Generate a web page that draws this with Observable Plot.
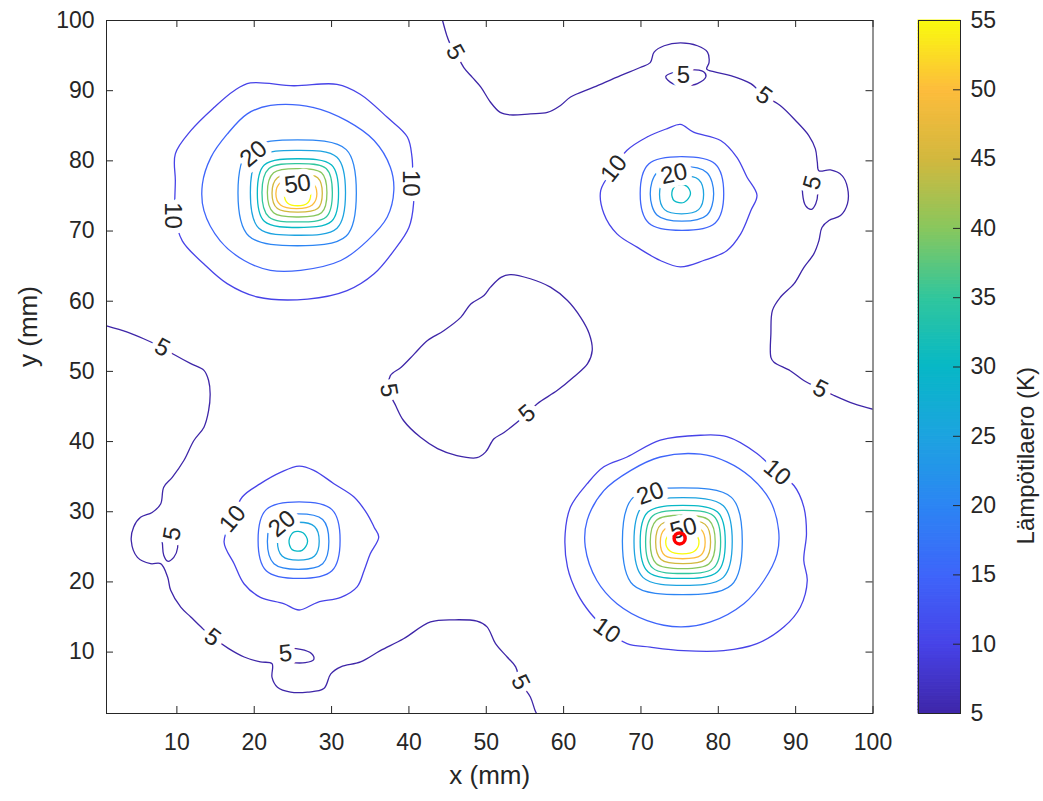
<!DOCTYPE html>
<html><head><meta charset="utf-8">
<script src="https://cdn.jsdelivr.net/npm/d3@7"></script>
<script src="https://cdn.jsdelivr.net/npm/@observablehq/plot@0.6"></script>
<style>
body{margin:0;background:#fff;}
#wrap{position:relative;width:1043px;height:801px;font-family:"Liberation Sans",Arial,Helvetica,sans-serif;}
#wrap svg{position:absolute;top:0;}
</style></head><body><div id="wrap"></div>
<script>
// ---- scale / tick data ----
const levels = [5,10,15,20,25,30,35,40,45,50,55];
const parulaStops = ["#3e26a8","#4743e8","#3e65fa","#2c85f3","#1da3e0","#07b8c6","#30c69d","#88c75d","#d2b83e","#fdbc3c","#f9fb0e"];
const xTicks = [10,20,30,40,50,60,70,80,90,100];
const yTicks = [10,20,30,40,50,60,70,80,90,100];
const cbTicks = [5,10,15,20,25,30,35,40,45,50,55];

// ---- level 5 contours ----
const c5Upper = [[44.35,100],[44.9,97.85],[45.25,96.85],[46.0,95.5],[47.1,93.3],[48.2,91.9],[49.3,90.5],[50.55,88.35],[51.8,86.9],[53.1,86.55],[55.7,86.7],[57.9,86.9],[59.6,87.9],[60.9,89.1],[63.9,90.5],[67.35,92.15],[69.9,93.3],[71.2,94.0],[71.7,95.5],[73.0,96.4],[75.1,96.8],[77.3,96.4],[78.6,95.5],[78.8,94.0],[78.5,93.1],[79.4,92.7],[81.6,92.15],[84.2,91.0],[85.9,89.3],[88.0,87.9],[90.2,85.5],[91.7,83.6],[92.55,81.7],[92.8,79.8],[93.0,78.6],[94.5,78.7],[96.0,77.9],[96.7,76.2],[96.7,73.9],[95.8,72.2],[94.3,71.5],[93.4,70.5],[93.0,68.6],[92.35,66.75],[91.05,64.8],[89.8,62.5],[88.05,60.6],[87.0,58.7],[86.8,55.4],[86.8,52.0],[87.2,51.3],[89.3,50.1],[91.05,48.7],[93.2,47.5],[94.9,46.6],[97.5,45.4],[100,44.6]];
const c5Left = [[0.91,56.5],[3.6,55.6],[5.7,54.65],[8.1,53.4],[9.8,52.3],[11.8,51.1],[13.5,50.15],[14.1,48.7],[14.3,46.8],[14.1,44.4],[13.5,42.05],[12.2,40.15],[10.9,37.3],[9.4,34.9],[8.3,33.5],[7.9,31.1],[6.8,29.9],[5.3,29.2],[4.4,27.8],[4.1,25.9],[4.9,23.5],[6.6,22.6],[7.9,22.6],[8.8,20.7],[9.2,18.8],[10.5,16.4],[11.8,15.0],[13.1,13.6],[14.6,12.1],[16.7,10.5],[18.7,9.3],[20.8,8.6],[22.3,8.35],[22.3,6.4],[23.0,5.0],[24.7,4.3],[26.9,4.3],[29.0,4.8],[29.9,6.9],[31.2,7.9],[33.75,8.6],[36.3,10.2],[39.3,11.9],[42.8,14.3],[45.8,14.6],[48.8,14.4],[50.1,13.6],[51.2,11.2],[52.7,9.3],[53.8,7.9],[54.4,5.7],[55.7,3.6],[56.3,1.7],[56.5,1.25]];
const c5Center = [[37.6,49.4],[37.4,47.3],[38.3,45.1],[39.3,43.0],[41.5,40.6],[43.7,39.0],[46.2,38.0],[48.8,37.7],[49.9,38.5],[51.0,40.4],[52.3,41.3],[55.3,44.0],[56.6,45.4],[59.2,47.3],[61.3,49.2],[63.1,51.1],[63.7,53.0],[63.3,55.4],[62.2,57.7],[60.5,60.1],[58.3,62.0],[55.7,63.2],[53.15,63.8],[51.9,63.4],[50.55,62.0],[49.7,60.8],[48.0,59.6],[46.7,57.7],[44.5,55.8],[42.4,54.4],[40.7,52.5],[39.0,50.6]];
const c5LoopTop = [[73.2,92.0],[74.5,92.7],[76.4,93.0],[78.1,92.7],[78.4,92.0],[77.3,91.0],[75.8,90.7],[74.1,91.0]];
const c5LoopRight = [[91.0,77.2],[90.9,75.3],[91.3,73.6],[92.05,73.1],[92.6,73.9],[92.85,75.3],[92.6,76.9],[91.8,77.6]];
const c5LoopLeft = [[8.15,27.05],[8.15,25.2],[8.3,23.8],[8.8,22.95],[9.6,23.5],[10.1,24.9],[9.95,26.3],[9.2,27.6]];
const c5LoopBottom = [[22.9,9.5],[24.05,10.4],[26.0,10.4],[27.4,9.8],[27.7,8.96],[26.6,8.5],[24.7,8.5],[23.3,8.7]];

// ---- top-left source ----
const tl10 = [[19.5,91.1],[25.1,90.7],[30.7,90.9],[33.7,89.5],[37.2,86.2],[39.8,83.4],[40.4,80.5],[40.5,77.2],[40.6,73.9],[40.0,70.5],[38.05,67.2],[35.5,63.9],[32.0,61.5],[26.9,60.3],[20.4,60.6],[16.5,62.5],[13.5,65.3],[10.7,68.6],[9.8,72.0],[9.8,77.2],[9.8,81.0],[11.8,84.3],[14.8,87.6],[17.4,90.0]];
const tl15 = [[22.1,87.9],[27.7,87.6],[32.0,85.7],[35.5,82.9],[37.6,79.1],[38.05,75.8],[37.2,72.0],[34.6,68.6],[31.2,65.8],[26.0,64.4],[22.1,64.4],[18.7,65.8],[15.6,68.6],[13.5,72.9],[13.3,76.7],[14.4,80.5],[16.5,83.8],[19.1,86.7]];
const tl20 = [[33.2,75.4],[31.9,81.6],[25.6,83.0],[19.3,81.6],[17.9,75.4],[19.3,69.3],[25.6,67.9],[31.9,69.3]];
const tl25 = [[31.8,75.5],[30.7,80.5],[25.7,81.5],[20.6,80.5],[19.5,75.5],[20.6,70.4],[25.7,69.4],[30.7,70.4]];
const tl30 = [[30.9,75.4],[30.0,79.4],[25.7,80.3],[21.3,79.4],[20.4,75.4],[21.3,71.4],[25.7,70.5],[30.0,71.4]];
const tl35 = [[30.1,75.5],[29.3,78.9],[25.6,79.6],[21.9,78.9],[21.0,75.5],[21.9,72.0],[25.6,71.3],[29.3,72.0]];
const tl40 = [[29.4,75.5],[28.7,78.3],[25.6,78.9],[22.5,78.3],[21.7,75.5],[22.5,72.6],[25.6,72.0],[28.7,72.6]];
const tl45 = [[28.8,75.4],[28.2,77.6],[25.6,78.1],[23.0,77.6],[22.3,75.4],[23.0,73.2],[25.6,72.7],[28.2,73.2]];
const tl50 = [[28.1,75.3],[27.5,76.9],[25.5,77.4],[23.4,76.9],[22.8,75.3],[23.4,73.7],[25.5,73.2],[27.5,73.7]];
const tl55 = [[27.3,75.2],[26.9,76.3],[25.6,76.7],[24.3,76.3],[23.9,75.2],[24.3,74.0],[25.6,73.6],[26.9,74.0]];

// ---- top-right source ----
const tr10 = [[68.2,81.5],[70.8,83.4],[73.4,84.6],[75.1,85.2],[76.8,84.1],[80.3,82.9],[82.4,80.5],[83.7,77.7],[85.0,75.1],[84.2,72.9],[82.9,69.6],[81.1,67.2],[78.1,65.8],[75.1,64.9],[72.5,65.8],[69.5,67.7],[66.9,69.6],[65.2,72.5],[64.8,75.8],[66.5,78.9]];
const tr15 = [[80.7,75.35],[79.6,79.55],[75.3,80.6],[71.0,79.55],[69.9,75.35],[71.0,71.15],[75.3,70.1],[79.6,71.15]];
const tr20 = [[79.4,75.3],[78.5,78.35],[75.3,79.2],[72.1,78.35],[71.2,75.3],[72.1,72.25],[75.3,71.4],[78.5,72.25]];
const tr25 = [[78.1,75.2],[77.45,77.35],[75.25,77.9],[73.05,77.35],[72.4,75.2],[73.05,73.05],[75.25,72.45],[77.45,73.05]];
const tr30 = [[76.4,75.3],[75.9,76.4],[74.6,76.5],[74.0,75.5],[74.3,74.3],[75.6,74.1]];

// ---- bottom-left source ----
const bl10 = [[18.45,32.1],[20.8,34.0],[23.4,35.6],[25.8,36.5],[27.7,35.9],[30.3,34.0],[32.9,32.1],[34.6,29.7],[35.5,27.8],[36.1,26.4],[35.0,24.0],[34.2,21.6],[33.3,19.3],[31.2,17.8],[28.2,17.1],[25.8,16.0],[23.8,16.9],[20.8,17.8],[18.7,19.7],[17.4,22.6],[16.1,25.7],[17.2,29.0]];
const bl15 = [[31.1,25.95],[30.05,30.3],[25.8,31.4],[21.55,30.3],[20.5,25.95],[21.55,21.6],[25.8,20.5],[30.05,21.6]];
const bl20 = [[29.65,25.75],[28.85,28.9],[25.7,29.7],[22.55,28.9],[21.7,25.75],[22.55,22.6],[25.7,21.8],[28.85,22.6]];
const bl25 = [[28.4,25.8],[27.8,27.9],[25.7,28.5],[23.6,27.9],[23.0,25.8],[23.6,23.7],[25.7,23.1],[27.8,23.7]];
const bl30 = [[26.9,25.8],[26.3,27.0],[25.1,27.1],[24.5,25.9],[24.9,24.6],[26.2,24.5]];

// ---- bottom-right source ----
const br10 = [[68.2,37.8],[72.5,40.2],[77.7,40.9],[81.1,40.7],[85.0,38.3],[87.6,35.6],[89.8,33.7],[91.05,30.7],[91.4,26.9],[91.05,23.1],[91.5,20.2],[90.6,16.4],[88.5,13.6],[85.0,11.2],[80.7,10.2],[75.5,10.2],[71.2,10.7],[68.2,11.2],[65.6,13.1],[63.5,15.5],[61.8,18.3],[60.5,22.1],[60.2,26.9],[60.9,30.7],[63.05,34.0],[65.2,36.4]];
const br15 = [[72.5,37.8],[77.7,38.2],[81.1,37.1],[84.2,34.9],[86.7,31.6],[87.8,27.3],[87.6,24.0],[85.9,20.2],[83.3,16.9],[79.0,14.3],[75.1,13.6],[70.8,14.5],[66.9,16.9],[64.3,20.2],[62.8,25.0],[63.05,28.8],[65.2,33.0],[68.7,35.9]];
const br20 = [[83.1,25.8],[81.7,32.05],[75.35,33.4],[69.0,32.05],[67.6,25.8],[69.0,19.55],[75.35,18.2],[81.7,19.55]];
const br25 = [[81.8,25.75],[80.65,30.85],[75.45,32.0],[70.25,30.85],[69.1,25.75],[70.25,20.65],[75.45,19.5],[80.65,20.65]];
const br30 = [[80.9,25.7],[79.9,29.95],[75.4,30.9],[70.9,29.95],[69.9,25.7],[70.9,21.45],[75.4,20.5],[79.9,21.45]];
const br35 = [[80.3,25.7],[79.4,29.4],[75.45,30.2],[71.5,29.4],[70.6,25.7],[71.5,22.0],[75.45,21.2],[79.4,22.0]];
const br40 = [[79.6,25.7],[78.8,28.8],[75.4,29.5],[72.0,28.8],[71.2,25.7],[72.0,22.6],[75.4,21.9],[78.8,22.6]];
const br45 = [[79.0,25.7],[78.3,28.2],[75.45,28.8],[72.6,28.2],[71.9,25.7],[72.6,23.2],[75.45,22.6],[78.3,23.2]];
const br50 = [[78.3,25.65],[77.7,27.55],[75.4,28.0],[73.1,27.55],[72.5,25.65],[73.1,23.75],[75.4,23.3],[77.7,23.75]];
const br55 = [[77.5,25.65],[76.95,26.9],[75.35,27.3],[73.75,26.9],[73.2,25.65],[73.75,24.4],[75.35,24.0],[76.95,24.4]];

const openContours = [
  {level:5, pts:c5Upper}, {level:5, pts:c5Left}
];
const closedContours = [
  {level:5, pts:c5Center}, {level:5, pts:c5LoopTop}, {level:5, pts:c5LoopRight}, {level:5, pts:c5LoopLeft}, {level:5, pts:c5LoopBottom},
  {level:10, pts:tl10}, {level:15, pts:tl15}, {level:20, pts:tl20}, {level:25, pts:tl25}, {level:30, pts:tl30},
  {level:35, pts:tl35}, {level:40, pts:tl40}, {level:45, pts:tl45}, {level:50, pts:tl50}, {level:55, pts:tl55},
  {level:10, pts:tr10}, {level:15, pts:tr15}, {level:20, pts:tr20}, {level:25, pts:tr25}, {level:30, pts:tr30},
  {level:10, pts:bl10}, {level:15, pts:bl15}, {level:20, pts:bl20}, {level:25, pts:bl25}, {level:30, pts:bl30},
  {level:10, pts:br10}, {level:15, pts:br15}, {level:20, pts:br20}, {level:25, pts:br25}, {level:30, pts:br30},
  {level:35, pts:br35}, {level:40, pts:br40}, {level:45, pts:br45}, {level:50, pts:br50}, {level:55, pts:br55}
];

// contour labels: text, x, y, angle
const labelText  = ["5","5","5","5","5","5","5","5","5","5","5","5","10","10","20","50","10","20","10","20","10","10","20","50"];
const labelX     = [46.0,85.9,93.2,75.5,92.2,8.1,9.4,14.6,24.05,54.4,37.4,55.3,40.2,9.44,19.9,25.6,66.5,74.25,17.2,23.6,87.6,65.6,71.2,75.5];
const labelY     = [95.5,89.3,47.5,92.2,76.9,53.4,26.9,12.1,9.8,5.7,47.3,44.0,76.8,72.2,81.0,76.7,78.9,78.15,29.0,28.3,35.6,13.1,32.6,27.6];
const labelAngle = [61,36,27,0,-75,28,-80,37,-5,63,80,-40,90,90,-40,-8,-52,-12,-50,-40,40,35,-20,-15];

const hotspot = [{x:75.0, y:26.2}];

// ---- build ----
const color = d3.scaleLinear(levels, parulaStops);
const flat = (list, prefix) => list.flatMap((c, i) => c.pts.map(([x, y]) => ({x, y, level: c.level, id: prefix + i})));
const openPts = flat(openContours, "o");
const closedPts = flat(closedContours, "c");
const labels = labelText.map((t, i) => ({text: t, x: labelX[i], y: labelY[i], angle: labelAngle[i]}));

const W = 1043, H = 801, mL = 106, mR = 170.5, mT = 20, mB = 88;
const plotW = W - mL - mR, plotH = H - mT - mB;
const ink = "#262626";
const font = "'Liberation Sans', Arial, Helvetica, sans-serif";
const tickFont = 23;

const main = Plot.plot({
  width: W, height: H, marginLeft: mL, marginRight: mR, marginTop: mT, marginBottom: mB,
  x: {domain: [0.9, 100]},
  y: {domain: [1.25, 100]},
  style: {fontFamily: font, fontSize: tickFont + "px", color: ink, background: "transparent", overflow: "visible"},
  marks: [
    Plot.line(openPts, {x: "x", y: "y", z: "id", stroke: d => color(d.level), strokeWidth: 1.3, curve: "catmull-rom", clip: true}),
    Plot.line(closedPts, {x: "x", y: "y", z: "id", stroke: d => color(d.level), strokeWidth: 1.3, curve: "catmull-rom-closed"}),
    Plot.text(labels, {x: "x", y: "y", text: "text", rotate: "angle", fontSize: 24, fill: ink, stroke: "white", strokeWidth: 11, strokeLinejoin: "round", paintOrder: "stroke"}),
    Plot.dot(hotspot, {x: "x", y: "y", r: 5.5, stroke: "#ff0000", strokeWidth: 3.5, fill: "none"}),
    Plot.frame({stroke: ink, strokeWidth: 1}),
    Plot.ruleX(xTicks, {x: d => d, insetTop: plotH - 7, stroke: ink}),
    Plot.ruleX(xTicks, {x: d => d, insetBottom: plotH - 7, stroke: ink}),
    Plot.ruleY(yTicks, {y: d => d, insetRight: plotW - 7, stroke: ink}),
    Plot.ruleY(yTicks, {y: d => d, insetLeft: plotW - 7, stroke: ink}),
    Plot.axisX(xTicks, {anchor: "bottom", tickSize: 0, tickPadding: 20, label: null, fill: ink, fontSize: tickFont}),
    Plot.axisY(yTicks, {anchor: "left", tickSize: 0, tickPadding: 12, label: null, fill: ink, fontSize: tickFont}),
    Plot.text(["x (mm)"], {frameAnchor: "bottom", dy: 70, fontSize: 26, fill: ink}),
    Plot.text(["y (mm)"], {frameAnchor: "left", dx: -78, rotate: -90, fontSize: 26, fill: ink})
  ]
});

// colorbar
const cbLeft = 900, cbW = 143, cbML = 18, cbMR = 83;
const barW = cbW - cbML - cbMR;
const cbSteps = d3.range(5, 55, 0.25);
const cb = Plot.plot({
  width: cbW, height: H, marginLeft: cbML, marginRight: cbMR, marginTop: mT, marginBottom: mB,
  x: {domain: [0, 1], axis: null},
  y: {domain: [5, 55], axis: null},
  style: {fontFamily: font, fontSize: tickFont + "px", color: ink, background: "transparent", overflow: "visible"},
  marks: [
    Plot.rect(cbSteps, {x1: 0, x2: 1, y1: d => d, y2: d => d + 0.25, fill: d => color(d + 0.125), stroke: d => color(d + 0.125), strokeWidth: 1}),
    Plot.frame({stroke: ink, strokeWidth: 1}),
    Plot.ruleY(cbTicks, {y: d => d, insetLeft: barW - 7, stroke: ink}),
    Plot.axisY(cbTicks, {anchor: "right", tickSize: 0, tickPadding: 10, label: null, fill: ink, fontSize: tickFont}),
    Plot.text(["Lämpötilaero (K)"], {frameAnchor: "right", dx: 66, rotate: -90, fontSize: 24, fill: ink})
  ]
});
cb.style.left = cbLeft + "px";
main.style.left = "0px";
const wrap = document.getElementById("wrap");
wrap.appendChild(main);
wrap.appendChild(cb);
</script>
</body></html>
